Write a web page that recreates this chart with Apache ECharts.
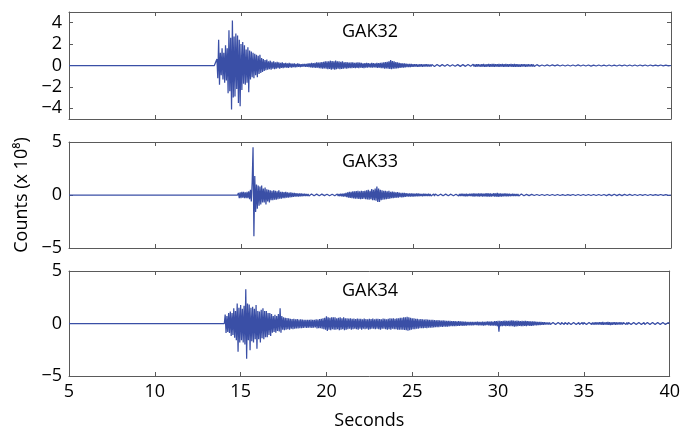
<!DOCTYPE html>
<html>
<head>
<meta charset="utf-8">
<script src="https://cdn.jsdelivr.net/npm/echarts@6/dist/echarts.min.js"></script>
<style>html,body{margin:0;padding:0;background:#fff}#c{width:683px;height:431px}</style>
</head>
<body>
<div id="c"></div>
<script>
// ---- data (amplitudes in counts x 10^8) ----
var stationNames = ['GAK32', 'GAK33', 'GAK34'];
var xTicks = [5, 10, 15, 20, 25, 30, 35, 40];
var yTicksGAK32 = [-4, -2, 0, 2, 4];
var yTicksOther = [-5, 0, 5];
var traceStart = 5;       // seconds, quiet trace before samples
var traceEnd = 40;
var sampleStart = 13.0;   // seconds of first sample
var sampleStep = 0.05;    // seconds between samples (one row = 1 s)

var gak32 = [
 0,0,0,0,0,0,0,0,0,0,0,0,0.6,-1.2,2.4,-1.8,1.2,-0.9,1.6,-1.3,
 1.2,-1.6,1.9,-1.4,1.6,-2.6,3.3,-2.4,2.6,-4.1,4.2,-3.0,2.7,-2.9,3.0,-2.2,2.8,-3.5,2.4,-3.8,
 2.0,-2.3,2.2,-1.7,1.9,-1.8,1.5,-1.6,1.7,-2.5,1.4,-1.3,1.3,-1.1,1.2,-1.2,1.1,-0.9,1.0,-1.1,
 0.9,-0.8,1.0,-0.7,0.7,-0.6,0.6,-0.5,0.5,-0.45,0.55,-0.4,0.4,-0.35,0.45,-0.4,0.35,-0.3,0.4,-0.35,
 0.3,-0.3,0.35,-0.25,0.3,-0.3,0.25,-0.22,0.3,-0.25,0.22,-0.2,0.25,-0.2,0.2,-0.22,0.25,-0.18,0.2,-0.2,
 0.18,-0.15,0.2,-0.17,0.15,-0.15,0.2,-0.12,0.15,-0.14,0.12,-0.12,0.15,-0.1,0.14,-0.12,0.15,-0.12,0.2,-0.15,
 0.2,-0.18,0.25,-0.2,0.22,-0.2,0.25,-0.22,0.3,-0.2,0.28,-0.25,0.3,-0.28,0.32,-0.3,0.35,-0.28,0.4,-0.3,
 0.38,-0.35,0.4,-0.32,0.45,-0.4,0.42,-0.35,0.4,-0.38,0.45,-0.35,0.38,-0.3,0.4,-0.35,0.35,-0.32,0.38,-0.3,
 0.3,-0.28,0.32,-0.3,0.3,-0.25,0.28,-0.26,0.3,-0.25,0.3,-0.22,0.25,-0.25,0.28,-0.22,0.3,-0.25,0.26,-0.2,
 0.25,-0.22,0.2,-0.25,0.22,-0.2,0.25,-0.2,0.22,-0.18,0.2,-0.2,0.25,-0.2,0.22,-0.18,0.2,-0.2,0.25,-0.22,
 0.22,-0.2,0.25,-0.25,0.28,-0.25,0.3,-0.3,0.32,-0.28,0.35,-0.3,0.4,-0.32,0.5,-0.35,0.42,-0.3,0.4,-0.3,
 0.32,-0.28,0.3,-0.25,0.25,-0.22,0.22,-0.2,0.2,-0.2,0.2,-0.18,0.18,-0.15,0.15,-0.15,0.15,-0.14,0.14,-0.12,
 0.12,-0.12,0.13,-0.1,0.12,-0.12,0.1,-0.11,0.12,-0.1,0.13,-0.12,0.1,-0.1,0.12,-0.1,0.11,-0.1,0.1,-0.09,
 0.1,-0.1,0.09,-0.08,0.1,-0.09,0.08,-0.1,0.09,-0.08,0.1,-0.08,0.09,-0.09,0.08,-0.08,0.1,-0.07,0.08,-0.08,
 0.09,-0.08,0.08,-0.07,0.1,-0.08,0.07,-0.08,0.08,-0.07,0.09,-0.08,0.08,-0.07,0.08,-0.08,0.07,-0.07,0.08,-0.07,
 0.07,-0.08,0.08,-0.07,0.09,-0.08,0.07,-0.08,0.1,-0.09,0.12,-0.1,0.1,-0.12,0.11,-0.1,0.12,-0.1,0.1,-0.11,
 0.12,-0.1,0.14,-0.12,0.1,-0.12,0.13,-0.1,0.15,-0.12,0.12,-0.11,0.14,-0.12,0.15,-0.12,0.12,-0.1,0.13,-0.12,
 0.15,-0.12,0.12,-0.1,0.14,-0.13,0.12,-0.12,0.15,-0.11,0.13,-0.12,0.12,-0.1,0.14,-0.12,0.12,-0.13,0.15,-0.12,
 0.12,-0.11,0.13,-0.12,0.1,-0.12,0.12,-0.1,0.13,-0.1,0.12,-0.11,0.1,-0.1,0.12,-0.1,0.1,-0.1,0.11,-0.09,
 0.1,-0.09,0.08,-0.08,0.08,-0.07,0.07,-0.06,0.06,-0.06,0.05,-0.06,0.06,-0.05,0.05,-0.05,0.06,-0.05,0.05,-0.05,
 0.05,-0.05,0.06,-0.05,0.05,-0.04,0.05,-0.05,0.06,-0.05,0.05,-0.05,0.04,-0.05,0.05,-0.04,0.05,-0.05,0.06,-0.05,
 0.05,-0.04,0.05,-0.05,0.06,-0.05,0.05,-0.05,0.04,-0.05,0.05,-0.04,0.06,-0.05,0.05,-0.05,0.05,-0.04,0.05,-0.05,
 0.06,-0.05,0.05,-0.05,0.05,-0.04,0.05,-0.06,0.05,-0.05,0.04,-0.05,0.05,-0.05,0.06,-0.05,0.05,-0.04,0.05,-0.05,
 0.05,-0.05,0.04,-0.05,0.05,-0.05,0.06,-0.05,0.05,-0.04,0.05,-0.05,0.05,-0.05,0.04,-0.05,0.05,-0.05,0.06,-0.04,
 0.05,-0.05,0.05,-0.04,0.06,-0.05,0.05,-0.05,0.04,-0.05,0.05,-0.05,0.05,-0.04,0.05,-0.05,0.06,-0.05,0.05,-0.04,
 0.04,-0.05,0.05,-0.04,0.05,-0.05,0.04,-0.04,0.05,-0.05,0.05,-0.04,0.04,-0.05,0.05,-0.04,0.05,-0.05,0.04,-0.04,
 0.05,-0.04,0.04,-0.05,0.05,-0.04,0.04,-0.04,0.05,-0.05,0.04,-0.04,0.05,-0.04,0.04,-0.05,0.05,-0.04,0.04,-0.04
];
var gak33 = [
 0,0,0,0,0,0,0,0,0,0,0,0,0,0,0,0,0,0,0,0,
 0,0,0,0,0,0,0,0,0,0,0,0,0,0,0,0,0,0.2,-0.3,0.25,
 -0.3,0.3,-0.25,0.3,-0.3,0.25,-0.3,0.3,-0.3,0.35,-0.4,0.5,-0.6,1.2,4.5,-3.9,1.8,-1.6,1.0,-1.3,
 0.9,-1.0,0.8,-0.9,0.9,-0.7,0.6,-0.7,0.7,-0.9,0.55,-0.6,0.5,-0.7,0.45,-0.5,0.4,-0.5,0.45,-0.45,
 0.4,-0.45,0.35,-0.4,0.45,-0.35,0.3,-0.35,0.3,-0.3,0.28,-0.3,0.3,-0.25,0.25,-0.25,0.22,-0.22,0.25,-0.2,
 0.2,-0.18,0.2,-0.15,0.18,-0.15,0.15,-0.14,0.15,-0.12,0.14,-0.12,0.12,-0.1,0.12,-0.1,0.1,-0.1,0.1,-0.09,
 0.08,-0.08,0.1,-0.07,0.08,-0.07,0.07,-0.07,0.08,-0.06,0.07,-0.07,0.07,-0.06,0.08,-0.07,0.06,-0.06,0.07,-0.07,
 0.07,-0.06,0.08,-0.07,0.06,-0.07,0.07,-0.06,0.08,-0.07,0.08,-0.08,0.1,-0.1,0.1,-0.11,0.12,-0.12,0.12,-0.14,
 0.15,-0.15,0.2,-0.2,0.25,-0.25,0.3,-0.28,0.3,-0.3,0.35,-0.32,0.35,-0.35,0.38,-0.35,0.4,-0.38,0.35,-0.4,
 0.4,-0.38,0.38,-0.35,0.4,-0.4,0.45,-0.42,0.5,-0.45,0.4,-0.4,0.55,-0.5,0.5,-0.5,0.6,-0.55,0.8,-0.65,
 0.6,-0.65,0.5,-0.5,0.45,-0.45,0.4,-0.42,0.4,-0.4,0.35,-0.38,0.4,-0.35,0.3,-0.3,0.32,-0.3,0.3,-0.28,
 0.25,-0.25,0.28,-0.25,0.22,-0.2,0.2,-0.22,0.2,-0.2,0.2,-0.18,0.18,-0.16,0.15,-0.15,0.16,-0.15,0.15,-0.14,
 0.15,-0.15,0.12,-0.12,0.14,-0.12,0.15,-0.12,0.12,-0.1,0.1,-0.12,0.12,-0.11,0.12,-0.1,0.1,-0.1,0.11,-0.1,
 0.1,-0.1,0.08,-0.09,0.1,-0.1,0.1,-0.08,0.08,-0.08,0.09,-0.1,0.08,-0.08,0.07,-0.07,0.08,-0.08,0.08,-0.07,
 0.08,-0.07,0.07,-0.07,0.08,-0.08,0.08,-0.08,0.1,-0.09,0.08,-0.08,0.1,-0.1,0.1,-0.1,0.12,-0.1,0.12,-0.11,
 0.1,-0.12,0.12,-0.12,0.1,-0.1,0.12,-0.1,0.12,-0.12,0.15,-0.15,0.14,-0.13,0.12,-0.12,0.15,-0.15,0.15,-0.12,
 0.15,-0.15,0.12,-0.12,0.15,-0.15,0.18,-0.16,0.15,-0.15,0.15,-0.14,0.12,-0.12,0.18,-0.15,0.15,-0.16,0.2,-0.18,
 0.16,-0.15,0.15,-0.14,0.12,-0.12,0.15,-0.13,0.14,-0.12,0.12,-0.12,0.12,-0.11,0.1,-0.1,0.12,-0.1,0.1,-0.1,
 0.1,-0.1,0.1,-0.09,0.08,-0.08,0.1,-0.08,0.08,-0.07,0.07,-0.07,0.06,-0.06,0.06,-0.06,0.05,-0.05,0.06,-0.05,
 0.05,-0.05,0.05,-0.04,0.05,-0.05,0.05,-0.05,0.04,-0.05,0.05,-0.04,0.05,-0.05,0.05,-0.04,0.05,-0.05,0.04,-0.05,
 0.05,-0.04,0.05,-0.05,0.04,-0.05,0.05,-0.05,0.05,-0.04,0.04,-0.05,0.05,-0.05,0.04,-0.04,0.05,-0.05,0.05,-0.04,
 0.04,-0.05,0.05,-0.04,0.05,-0.05,0.05,-0.04,0.04,-0.05,0.05,-0.05,0.05,-0.04,0.05,-0.05,0.04,-0.05,0.05,-0.05,
 0.05,-0.05,0.05,-0.04,0.05,-0.05,0.06,-0.05,0.05,-0.05,0.05,-0.05,0.06,-0.05,0.05,-0.06,0.05,-0.05,0.06,-0.05,
 0.06,-0.06,0.05,-0.05,0.06,-0.06,0.07,-0.06,0.06,-0.05,0.07,-0.06,0.06,-0.06,0.07,-0.05,0.06,-0.06,0.07,-0.06,
 0.06,-0.06,0.07,-0.06,0.06,-0.06,0.06,-0.05,0.06,-0.05,0.05,-0.05,0.06,-0.05,0.05,-0.05,0.05,-0.05,0.05,-0.05,
 0.04,-0.05,0.05,-0.04,0.05,-0.05,0.04,-0.04,0.05,-0.05,0.05,-0.04,0.04,-0.05,0.05,-0.04,0.05,-0.05,0.04,-0.04,
 0.05,-0.04,0.04,-0.05,0.05,-0.04,0.04,-0.04,0.05,-0.05,0.04,-0.04,0.05,-0.04,0.04,-0.05,0.05,-0.04,0.04,-0.04
];
var gak34 = [
 0,0,0,0,0,0,0,0,0,0,0,0,0,0,0,0,0,0,0,0,
 0,0,0.85,-0.9,0.7,-0.8,1.0,-0.9,1.15,-1.2,1.0,-1.1,1.45,-1.35,1.2,-1.6,1.9,-2.7,1.5,-1.8,
 1.75,-1.6,1.4,-1.8,1.7,-2.0,3.25,-3.35,1.9,-1.6,1.8,-2.55,1.5,-1.7,1.6,-1.8,1.4,-1.5,1.75,-2.4,
 1.2,-1.5,1.15,-1.8,1.3,-1.4,1.45,-1.5,1.2,-1.3,1.2,-1.3,1.0,-1.1,1.0,-1.2,0.9,-0.87,0.7,-0.8,
 0.83,-0.87,0.7,-0.7,0.9,-0.75,1.45,-0.87,0.7,-0.6,0.6,-0.65,0.55,-0.6,0.53,-0.55,0.5,-0.6,0.45,-0.5,
 0.43,-0.55,0.45,-0.5,0.4,-0.48,0.42,-0.46,0.37,-0.45,0.4,-0.45,0.38,-0.42,0.36,-0.4,0.35,-0.42,0.34,-0.4,
 0.34,-0.4,0.38,-0.42,0.35,-0.4,0.36,-0.38,0.4,-0.46,0.38,-0.45,0.42,-0.45,0.45,-0.5,0.5,-0.55,0.55,-0.6,
 0.68,-0.7,0.6,-0.6,0.55,-0.65,0.6,-0.55,0.6,-0.6,0.58,-0.6,0.5,-0.55,0.55,-0.65,0.6,-0.6,0.5,-0.55,
 0.6,-0.65,0.5,-0.6,0.5,-0.55,0.48,-0.5,0.5,-0.6,0.45,-0.55,0.46,-0.5,0.42,-0.55,0.46,-0.6,0.45,-0.5,
 0.45,-0.6,0.4,-0.5,0.46,-0.55,0.42,-0.5,0.4,-0.6,0.45,-0.55,0.42,-0.5,0.46,-0.5,0.4,-0.55,0.45,-0.5,
 0.45,-0.55,0.42,-0.6,0.4,-0.5,0.46,-0.5,0.45,-0.55,0.4,-0.6,0.45,-0.55,0.5,-0.6,0.46,-0.5,0.5,-0.55,
 0.45,-0.55,0.5,-0.6,0.5,-0.58,0.55,-0.6,0.55,-0.6,0.6,-0.62,0.58,-0.65,0.65,-0.68,0.6,-0.65,0.55,-0.6,
 0.5,-0.55,0.5,-0.55,0.45,-0.5,0.45,-0.5,0.4,-0.45,0.42,-0.45,0.4,-0.45,0.38,-0.42,0.4,-0.45,0.38,-0.4,
 0.34,-0.4,0.36,-0.4,0.35,-0.38,0.32,-0.36,0.3,-0.35,0.32,-0.34,0.3,-0.3,0.28,-0.32,0.3,-0.3,0.28,-0.3,
 0.25,-0.3,0.26,-0.28,0.25,-0.25,0.24,-0.26,0.22,-0.25,0.22,-0.24,0.2,-0.22,0.22,-0.22,0.2,-0.2,0.2,-0.22,
 0.18,-0.2,0.18,-0.2,0.15,-0.18,0.16,-0.18,0.15,-0.17,0.15,-0.18,0.16,-0.16,0.15,-0.15,0.18,-0.18,0.16,-0.18,
 0.15,-0.18,0.18,-0.2,0.16,-0.18,0.18,-0.16,0.2,-0.18,0.18,-0.2,0.2,-0.2,0.18,-0.2,0.22,-0.2,0.22,-0.25,
 0.25,-0.77,0.25,-0.25,0.22,-0.25,0.25,-0.22,0.28,-0.25,0.25,-0.22,0.25,-0.25,0.28,-0.25,0.3,-0.25,0.28,-0.3,
 0.25,-0.28,0.28,-0.25,0.25,-0.22,0.22,-0.25,0.25,-0.25,0.24,-0.22,0.25,-0.25,0.22,-0.2,0.22,-0.22,0.2,-0.22,
 0.2,-0.2,0.2,-0.18,0.18,-0.18,0.16,-0.15,0.15,-0.15,0.14,-0.12,0.12,-0.12,0.12,-0.1,0.1,-0.1,0.1,-0.1,
 0.1,-0.1,0.09,-0.1,0.1,-0.08,0.1,-0.09,0.08,-0.1,0.1,-0.09,0.09,-0.1,0.1,-0.08,0.08,-0.1,0.1,-0.09,
 0.09,-0.1,0.1,-0.08,0.08,-0.09,0.1,-0.1,0.09,-0.08,0.1,-0.1,0.08,-0.09,0.1,-0.1,0.09,-0.09,0.1,-0.1,
 0.1,-0.09,0.1,-0.1,0.09,-0.1,0.1,-0.09,0.12,-0.1,0.1,-0.1,0.1,-0.11,0.12,-0.1,0.1,-0.1,0.12,-0.11,
 0.12,-0.12,0.14,-0.12,0.1,-0.1,0.12,-0.12,0.15,-0.12,0.12,-0.14,0.1,-0.12,0.12,-0.1,0.12,-0.12,0.11,-0.1,
 0.1,-0.1,0.12,-0.1,0.1,-0.1,0.1,-0.09,0.12,-0.1,0.1,-0.1,0.1,-0.09,0.1,-0.1,0.09,-0.1,0.1,-0.09,
 0.1,-0.1,0.09,-0.1,0.1,-0.08,0.1,-0.1,0.08,-0.09,0.1,-0.1,0.09,-0.1,0.1,-0.09,0.1,-0.1,0.09,-0.1,
 0.1,-0.09,0.1,-0.1,0.08,-0.1,0.1,-0.09,0.1,-0.1,0.09,-0.1,0.1,-0.08,0.1,-0.1,0.09,-0.1,0.08,-0.08
];
var traces = [gak32, gak33, gak34];

// ---- chart ----
var FONT = 'Open Sans';
var AXIS_COLOR = '#5a5a5a';
var LINE_COLOR = '#3a4fa6';
var grids = [
  {left: 69, right: 12, top: 12, height: 107},
  {left: 69, right: 12, top: 142, height: 106},
  {left: 69, right: 12, top: 271, height: 108}
];
function minusFmt(v) { return String(v).replace('-', '\u2212'); }
function buildData(vals) {
  var d = [[traceStart, 0]];
  for (var i = 0; i < vals.length; i++) {
    d.push([+(sampleStart + i * sampleStep).toFixed(2), vals[i]]);
  }
  d.push([traceEnd, 0]);
  return d;
}
var xAxes = [], yAxes = [], series = [], titles = [];
grids.forEach(function (g, k) {
  var last = k === grids.length - 1;
  var baseX = {
    type: 'value', gridIndex: k, min: xTicks[0], max: xTicks[xTicks.length - 1], interval: 5,
    axisLine: {show: true, onZero: false, lineStyle: {color: AXIS_COLOR, width: 1}},
    axisTick: {show: true, inside: true, length: 4, lineStyle: {color: AXIS_COLOR}},
    splitLine: {show: false}
  };
  xAxes.push(Object.assign({}, baseX, {
    position: 'bottom',
    axisLabel: {show: last, color: '#000', fontFamily: FONT, fontSize: 18, margin: 7},
    name: last ? 'Seconds' : '', nameLocation: 'middle', nameGap: 36,
    nameTextStyle: {color: '#000', fontFamily: FONT, fontSize: 18}
  }));
  xAxes.push(Object.assign({}, baseX, {position: 'top', axisLabel: {show: false}}));
  var yt = k === 0 ? yTicksGAK32 : yTicksOther;
  var baseY = {
    type: 'value', gridIndex: k, min: -5, max: 5,
    interval: k === 0 ? 1 : 5,
    axisLine: {show: true, onZero: false, lineStyle: {color: AXIS_COLOR, width: 1}},
    axisTick: {show: true, inside: true, length: 4, customValues: yt, lineStyle: {color: AXIS_COLOR}},
    splitLine: {show: false}
  };
  var leftY = Object.assign({}, baseY, {
    position: 'left',
    axisLabel: {
      color: '#000', fontFamily: FONT, fontSize: 18, margin: 7, customValues: yt,
      formatter: function (v) { return yt.indexOf(v) >= 0 ? minusFmt(v) : ''; }
    }
  });
  if (k === 1) {
    leftY.name = 'Counts (x 10\u2078)';
    leftY.nameLocation = 'middle';
    leftY.nameGap = 35;
    leftY.nameTextStyle = {color: '#000', fontFamily: FONT, fontSize: 18};
  }
  yAxes.push(leftY);
  yAxes.push(Object.assign({}, baseY, {position: 'right', axisLabel: {show: false}}));
  series.push({
    type: 'line', xAxisIndex: 2 * k, yAxisIndex: 2 * k,
    data: buildData(traces[k]), showSymbol: false, symbol: 'none', sampling: null,
    lineStyle: {color: LINE_COLOR, width: 1.25}, animation: false, clip: true
  });
  titles.push({
    text: stationNames[k], left: 337, top: g.top + 6,
    textStyle: {color: '#000', fontFamily: FONT, fontSize: 18, fontWeight: 'normal'}
  });
});
var chart = echarts.init(document.getElementById('c'), null, {renderer: 'canvas'});
chart.setOption({
  animation: false,
  backgroundColor: '#fff',
  title: titles,
  grid: grids,
  xAxis: xAxes,
  yAxis: yAxes,
  series: series
});
</script>
</body>
</html>
